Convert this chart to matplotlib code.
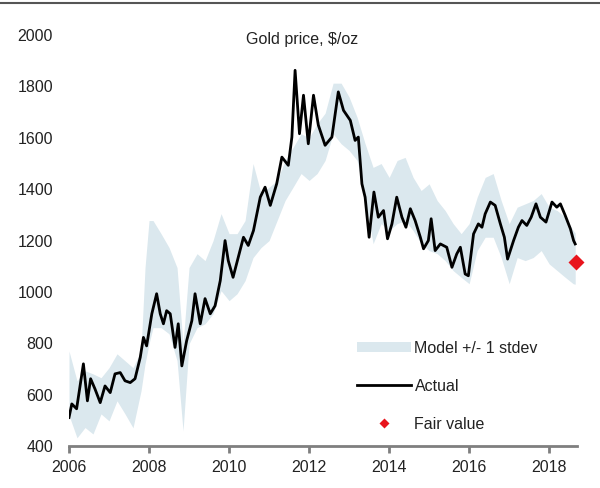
import matplotlib
matplotlib.use("Agg")
import matplotlib.pyplot as plt
from matplotlib.lines import Line2D
from matplotlib.patches import Patch

plt.rcParams['font.family'] = ['Liberation Sans', 'DejaVu Sans']

# gold price, $/oz
price_years = [2006.00, 2006.07, 2006.19, 2006.36, 2006.46, 2006.54, 2006.65, 2006.78, 2006.90,
               2007.03, 2007.15, 2007.28, 2007.40, 2007.53, 2007.65, 2007.78, 2007.86, 2007.94,
               2008.07, 2008.19, 2008.28, 2008.36, 2008.44, 2008.53, 2008.65, 2008.73, 2008.82, 2008.94,
               2009.07, 2009.15, 2009.28, 2009.40, 2009.53, 2009.65, 2009.78, 2009.90, 2009.98,
               2010.10, 2010.23, 2010.36, 2010.48, 2010.61, 2010.78, 2010.90,
               2011.03, 2011.19, 2011.32, 2011.48, 2011.57, 2011.65, 2011.76, 2011.86, 2011.98,
               2012.11, 2012.23, 2012.40, 2012.57, 2012.73, 2012.86,
               2013.03, 2013.15, 2013.23, 2013.32, 2013.40, 2013.50, 2013.62, 2013.73, 2013.86, 2013.96,
               2014.07, 2014.19, 2014.32, 2014.42, 2014.53, 2014.65, 2014.78, 2014.86, 2014.98,
               2015.05, 2015.15, 2015.28, 2015.44, 2015.57, 2015.69, 2015.78, 2015.90, 2015.98,
               2016.11, 2016.23, 2016.32, 2016.40, 2016.53, 2016.65, 2016.78, 2016.88, 2016.96,
               2017.11, 2017.23, 2017.32, 2017.44, 2017.55, 2017.67, 2017.78, 2017.92,
               2018.07, 2018.19, 2018.28, 2018.40, 2018.53, 2018.61, 2018.65]
price = [511, 564, 545, 720, 576, 662, 622, 569, 634,
         608, 681, 686, 654, 647, 662, 745, 823, 790,
         915, 993, 915, 876, 927, 915, 784, 876, 712, 810,
         888, 993, 876, 974, 915, 946, 1044, 1200, 1122,
         1057, 1135, 1213, 1181, 1239, 1369, 1408,
         1337, 1421, 1525, 1493, 1603, 1863, 1616, 1766, 1577,
         1766, 1650, 1571, 1603, 1779, 1707,
         1668, 1590, 1603, 1421, 1369, 1213, 1389, 1291, 1317, 1207,
         1265, 1369, 1291, 1252, 1324, 1278, 1213, 1168, 1200,
         1285, 1161, 1187, 1174, 1096, 1148, 1174, 1070, 1063,
         1226, 1265, 1252, 1304, 1350, 1337, 1265, 1213, 1128,
         1200, 1252, 1278, 1259, 1291, 1343, 1291, 1272,
         1350, 1330, 1343, 1298, 1246, 1200, 1187]

# model +/- 1 stdev band
band_years = [2006.0, 2006.2, 2006.4, 2006.6, 2006.8, 2007.0, 2007.2, 2007.4, 2007.6, 2007.8, 2007.9,
              2008.0, 2008.1, 2008.3, 2008.5, 2008.7, 2008.85, 2009.0, 2009.2, 2009.4, 2009.6, 2009.8,
              2010.0, 2010.2, 2010.4, 2010.6, 2010.8, 2011.0, 2011.2, 2011.4, 2011.6, 2011.8,
              2012.0, 2012.2, 2012.4, 2012.6, 2012.8, 2013.0, 2013.2, 2013.4, 2013.6, 2013.8,
              2014.0, 2014.2, 2014.4, 2014.6, 2014.8, 2015.0, 2015.2, 2015.4, 2015.6, 2015.8,
              2016.0, 2016.2, 2016.4, 2016.6, 2016.8, 2017.0, 2017.2, 2017.4, 2017.6, 2017.8,
              2018.0, 2018.2, 2018.4, 2018.6, 2018.65]
band_upper = [770, 654, 693, 681, 666, 705, 759, 732, 705, 771, 1095,
              1278, 1278, 1227, 1173, 1095, 798, 1095, 1149, 1122, 1200, 1305,
              1227, 1227, 1278, 1500, 1383, 1408, 1434, 1512, 1563, 1616,
              1600, 1655, 1696, 1813, 1813, 1759, 1680, 1577, 1485, 1500,
              1446, 1512, 1524, 1446, 1395, 1421, 1356, 1317, 1266, 1227,
              1266, 1369, 1446, 1461, 1356, 1266, 1330, 1343, 1356, 1383,
              1330, 1317, 1291, 1239, 1230]
band_lower = [520, 432, 472, 447, 525, 498, 576, 525, 471, 615, 720,
              798, 861, 861, 837, 732, 459, 798, 861, 876, 915, 1005,
              966, 993, 1044, 1134, 1173, 1200, 1278, 1356, 1408, 1461,
              1434, 1461, 1512, 1616, 1577, 1551, 1512, 1356, 1188, 1266,
              1239, 1266, 1278, 1239, 1188, 1161, 1149, 1122, 1083, 1057,
              1032, 1161, 1213, 1213, 1134, 1032, 1134, 1122, 1134, 1161,
              1109, 1083, 1057, 1032, 1030]

fair_year = [2018.67]
fair_value = [1118]

year_ticks = [2006, 2008, 2010, 2012, 2014, 2016, 2018]
price_ticks = [400, 600, 800, 1000, 1200, 1400, 1600, 1800, 2000]

fig = plt.figure(figsize=(6, 4.88), dpi=100)
ax = fig.add_axes([0.115, 0.086, 0.847, 0.842])

band_col = '#dbe8ee'
ax.fill_between(band_years, band_lower, band_upper, color=band_col, lw=0)
ax.plot(price_years, price, color='black', lw=2)
ax.plot(fair_year, fair_value, 'D', color='#e8141c', ms=8, mec='none', clip_on=False)

ax.set_xlim(2006, 2018.7)
ax.set_ylim(400, 2000)
ax.set_xticks(year_ticks)
ax.set_yticks(price_ticks)

for s in ['left', 'right', 'top']:
    ax.spines[s].set_visible(False)
ax.spines['bottom'].set_color('#7f7f7f')
ax.spines['bottom'].set_linewidth(2)
ax.tick_params(axis='x', direction='out', length=5, width=2, color='#7f7f7f',
               labelsize=11.5, pad=5, labelcolor='#222222')
ax.tick_params(axis='y', length=0, labelsize=11.5, pad=11.5, labelcolor='#222222')

ax.text(0.459, 0.99, 'Gold price, $/oz', transform=ax.transAxes, ha='center', va='center',
        fontsize=11.5, color='#222222')

handles = [Patch(color=band_col, lw=0),
           Line2D([], [], color='black', lw=2),
           Line2D([], [], marker='D', color='#e8141c', ls='none', ms=5, mec='none')]
labels = ['Model +/- 1 stdev', 'Actual', 'Fair value']
leg = fig.legend(handles, labels, loc='upper left', bbox_to_anchor=(0.595, 0.302),
                 frameon=False, fontsize=11.5, handlelength=3.4, handleheight=0.65,
                 handletextpad=0.2, labelspacing=1.45, borderpad=0, borderaxespad=0)
for t in leg.get_texts():
    t.set_color('#222222')

# rule across the top of the figure
fig.add_artist(Line2D([0, 1], [0.994, 0.994], color='#555555', lw=1.5, transform=fig.transFigure))

fig.savefig('out.png', dpi=100)
